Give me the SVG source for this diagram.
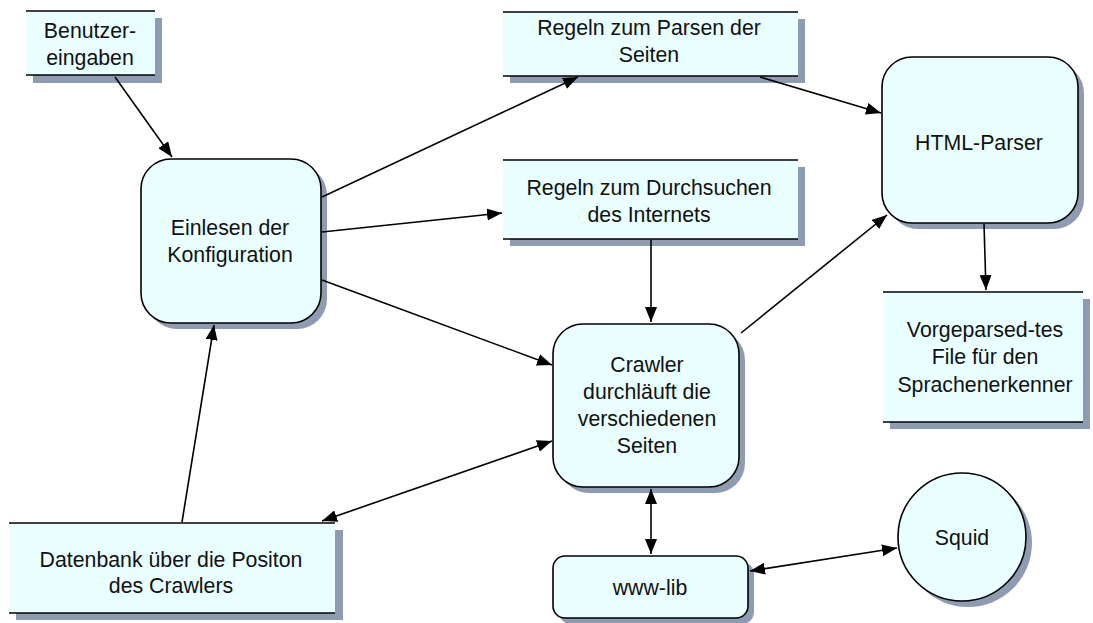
<svg xmlns="http://www.w3.org/2000/svg" width="1093" height="623" viewBox="0 0 1093 623">
  <style>
    .shadow { fill: #8e9bb0; }
    .fill { fill: #eaffff; }
    .proc { fill: #eaffff; stroke: #000; stroke-width: 1.6; }
    .edge { stroke: #000; stroke-width: 1.6; }
    .conn { fill: none; stroke: #000; stroke-width: 1.6; }
    text { font-family: "Liberation Sans", Arial, sans-serif; font-size: 21.3px; fill: #111; text-anchor: middle; }
  </style>
  <defs>
    <marker id="ah" viewBox="0 0 15 12" refX="15" refY="6" markerWidth="15" markerHeight="12" markerUnits="userSpaceOnUse" orient="auto-start-reverse">
      <path d="M0,0 L15,6 L0,12 z" fill="#000"/>
    </marker>
  </defs>

  <rect width="1093" height="623" fill="#fff"/>

  <!-- data stores: open boxes with top and bottom rules -->
  <g id="benutzereingaben">
    <rect class="shadow" x="33" y="18" width="129" height="65"/>
    <rect class="fill" x="26" y="11" width="129" height="64"/>
    <line class="edge" x1="26" y1="11" x2="155" y2="11"/>
    <line class="edge" x1="26" y1="75" x2="155" y2="75"/>
    <text x="90" y="38">Benutzer-</text>
    <text x="90" y="65">eingaben</text>
  </g>

  <g id="regeln-parsen">
    <rect class="shadow" x="510" y="19" width="295" height="64"/>
    <rect class="fill" x="503" y="12" width="295" height="64"/>
    <line class="edge" x1="503" y1="12" x2="798" y2="12"/>
    <line class="edge" x1="503" y1="76" x2="798" y2="76"/>
    <text x="649" y="35">Regeln zum Parsen der</text>
    <text x="649" y="62">Seiten</text>
  </g>

  <g id="regeln-durchsuchen">
    <rect class="shadow" x="510" y="167" width="295" height="79"/>
    <rect class="fill" x="503" y="160" width="295" height="79"/>
    <line class="edge" x1="503" y1="160" x2="798" y2="160"/>
    <line class="edge" x1="503" y1="239" x2="798" y2="239"/>
    <text x="649" y="195">Regeln zum Durchsuchen</text>
    <text x="649" y="222">des Internets</text>
  </g>

  <g id="vorgeparsed">
    <rect class="shadow" x="890" y="299" width="200" height="130"/>
    <rect class="fill" x="883" y="292" width="200" height="130"/>
    <line class="edge" x1="883" y1="292" x2="1083" y2="292"/>
    <line class="edge" x1="883" y1="422" x2="1083" y2="422"/>
    <text x="985" y="337">Vorgeparsed-tes</text>
    <text x="985" y="364">File für den</text>
    <text x="985" y="392">Sprachenerkenner</text>
  </g>

  <g id="datenbank">
    <rect class="shadow" x="16" y="530" width="327" height="90"/>
    <rect class="fill" x="9" y="523" width="326" height="90"/>
    <line class="edge" x1="9" y1="523" x2="335" y2="523"/>
    <line class="edge" x1="9" y1="613" x2="335" y2="613"/>
    <text x="171" y="567">Datenbank über die Positon</text>
    <text x="171" y="593">des Crawlers</text>
  </g>

  <!-- processes: rounded boxes -->
  <g id="einlesen">
    <rect class="shadow" x="147" y="165" width="180" height="164" rx="30"/>
    <rect class="proc" x="141" y="159" width="180" height="164" rx="30"/>
    <text x="230" y="235">Einlesen der</text>
    <text x="230" y="262">Konfiguration</text>
  </g>

  <g id="html-parser">
    <rect class="shadow" x="888" y="63" width="196" height="166" rx="30"/>
    <rect class="proc" x="882" y="57" width="196" height="166" rx="30"/>
    <text x="979" y="150">HTML-Parser</text>
  </g>

  <g id="crawler">
    <rect class="shadow" x="559" y="330" width="186" height="163" rx="30"/>
    <rect class="proc" x="553" y="324" width="186" height="163" rx="30"/>
    <text x="647" y="372">Crawler</text>
    <text x="647" y="399">durchläuft die</text>
    <text x="647" y="426">verschiedenen</text>
    <text x="647" y="453">Seiten</text>
  </g>

  <g id="www-lib">
    <rect class="shadow" x="559" y="562" width="195" height="62" rx="12"/>
    <rect class="proc" x="553" y="556" width="195" height="62" rx="12"/>
    <text x="650" y="595">www-lib</text>
  </g>

  <g id="squid">
    <circle class="shadow" cx="968" cy="543" r="64"/>
    <circle class="proc" cx="962" cy="537" r="64"/>
    <text x="962" y="545">Squid</text>
  </g>

  <!-- connectors -->
  <g id="connectors">
    <line class="conn" x1="115" y1="77" x2="172" y2="157" marker-end="url(#ah)"/>
    <line class="conn" x1="322" y1="197" x2="578" y2="77" marker-end="url(#ah)"/>
    <line class="conn" x1="322" y1="232" x2="502" y2="213" marker-end="url(#ah)"/>
    <line class="conn" x1="322" y1="280" x2="552" y2="365" marker-end="url(#ah)"/>
    <line class="conn" x1="651" y1="240" x2="651" y2="322" marker-end="url(#ah)"/>
    <line class="conn" x1="760" y1="77" x2="881" y2="113" marker-end="url(#ah)"/>
    <line class="conn" x1="741" y1="333" x2="887" y2="215" marker-end="url(#ah)"/>
    <line class="conn" x1="984" y1="224" x2="986" y2="290" marker-end="url(#ah)"/>
    <line class="conn" x1="182" y1="522" x2="214" y2="325" marker-end="url(#ah)"/>
    <line class="conn" x1="322" y1="521" x2="552" y2="441" marker-start="url(#ah)" marker-end="url(#ah)"/>
    <line class="conn" x1="651" y1="489" x2="651" y2="554" marker-start="url(#ah)" marker-end="url(#ah)"/>
    <line class="conn" x1="750" y1="571" x2="897" y2="548" marker-start="url(#ah)" marker-end="url(#ah)"/>
  </g>
</svg>
